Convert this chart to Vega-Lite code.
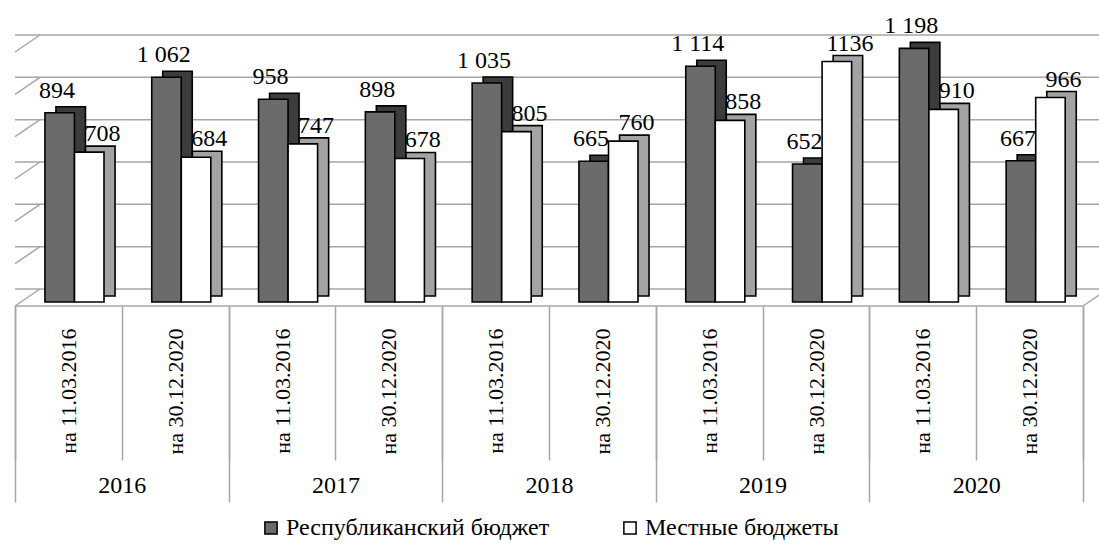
{
  "$schema": "https://vega.github.io/schema/vega-lite/v6.json",
  "autosize": {"type": "none"},
  "width": 1068,
  "height": 254,
  "padding": {"left": 15, "top": 48, "right": 16, "bottom": 242},
  "config": {
    "view": {"stroke": null},
    "font": "Liberation Serif, Times New Roman, serif",
    "legend": {"labelFont": "Liberation Serif, Times New Roman, serif"},
    "axis": {"labelFont": "Liberation Serif, Times New Roman, serif"},
    "text": {"font": "Liberation Serif, Times New Roman, serif"}
  },
  "datasets": {
    "main": [
      {"year": "2016", "cat": "2016|на 11.03.2016", "series": "Республиканский бюджет", "value": 894, "label": "894"},
      {"year": "2016", "cat": "2016|на 11.03.2016", "series": "Местные бюджеты", "value": 708, "label": "708"},
      {"year": "2016", "cat": "2016|на 30.12.2020", "series": "Республиканский бюджет", "value": 1062, "label": "1 062"},
      {"year": "2016", "cat": "2016|на 30.12.2020", "series": "Местные бюджеты", "value": 684, "label": "684"},
      {"year": "2017", "cat": "2017|на 11.03.2016", "series": "Республиканский бюджет", "value": 958, "label": "958"},
      {"year": "2017", "cat": "2017|на 11.03.2016", "series": "Местные бюджеты", "value": 747, "label": "747"},
      {"year": "2017", "cat": "2017|на 30.12.2020", "series": "Республиканский бюджет", "value": 898, "label": "898"},
      {"year": "2017", "cat": "2017|на 30.12.2020", "series": "Местные бюджеты", "value": 678, "label": "678"},
      {"year": "2018", "cat": "2018|на 11.03.2016", "series": "Республиканский бюджет", "value": 1035, "label": "1 035"},
      {"year": "2018", "cat": "2018|на 11.03.2016", "series": "Местные бюджеты", "value": 805, "label": "805"},
      {"year": "2018", "cat": "2018|на 30.12.2020", "series": "Республиканский бюджет", "value": 665, "label": "665"},
      {"year": "2018", "cat": "2018|на 30.12.2020", "series": "Местные бюджеты", "value": 760, "label": "760"},
      {"year": "2019", "cat": "2019|на 11.03.2016", "series": "Республиканский бюджет", "value": 1114, "label": "1 114"},
      {"year": "2019", "cat": "2019|на 11.03.2016", "series": "Местные бюджеты", "value": 858, "label": "858"},
      {"year": "2019", "cat": "2019|на 30.12.2020", "series": "Республиканский бюджет", "value": 652, "label": "652"},
      {"year": "2019", "cat": "2019|на 30.12.2020", "series": "Местные бюджеты", "value": 1136, "label": "1136"},
      {"year": "2020", "cat": "2020|на 11.03.2016", "series": "Республиканский бюджет", "value": 1198, "label": "1 198"},
      {"year": "2020", "cat": "2020|на 11.03.2016", "series": "Местные бюджеты", "value": 910, "label": "910"},
      {"year": "2020", "cat": "2020|на 30.12.2020", "series": "Республиканский бюджет", "value": 667, "label": "667"},
      {"year": "2020", "cat": "2020|на 30.12.2020", "series": "Местные бюджеты", "value": 966, "label": "966"}
    ],
    "grid": [{"v": 0}, {"v": 200}, {"v": 400}, {"v": 600}, {"v": 800}, {"v": 1000}, {"v": 1200}],
    "years": [{"year": "2016"}, {"year": "2017"}, {"year": "2018"}, {"year": "2019"}, {"year": "2020"}]
  },
  "layer": [
    {
      "layer": [
        {
          "data": {"name": "grid"},
          "mark": {"type": "rule", "color": "#a6a6a6", "strokeWidth": 1.5, "xOffset": 25, "x2Offset": 40, "yOffset": -13},
          "encoding": {
            "y": {"field": "v", "type": "quantitative", "scale": {"domain": [0, 1200], "nice": false}, "axis": null}
          }
        },
        {
          "data": {"name": "grid"},
          "mark": {"type": "rule", "color": "#a6a6a6", "strokeWidth": 1.5, "yOffset": 4, "y2Offset": -13, "x2Offset": 25},
          "encoding": {
            "x": {"value": 0},
            "x2": {"value": 0},
            "y": {"field": "v", "type": "quantitative"},
            "y2": {"field": "v"}
          }
        },
        {
          "data": {"values": [{"v": 0}]},
          "mark": {"type": "rule", "color": "#a6a6a6", "strokeWidth": 1.5, "yOffset": 4},
          "encoding": {
            "y": {"field": "v", "type": "quantitative"}
          }
        },
        {
          "data": {"values": [{"v": 0}]},
          "mark": {"type": "rule", "color": "#a6a6a6", "strokeWidth": 1.5, "yOffset": 4, "y2Offset": -13, "x2Offset": 25},
          "encoding": {
            "x": {"value": "width"},
            "x2": {"value": "width"},
            "y": {"field": "v", "type": "quantitative"},
            "y2": {"field": "v"}
          }
        },
        {
          "data": {"name": "main"},
          "transform": [{"filter": "datum.series === 'Республиканский бюджет'"}],
          "mark": {"type": "bar", "width": 29.5, "xOffset": 2.3, "yOffset": -6, "y2Offset": -6, "fill": "#3c3c3c", "stroke": "#000000", "strokeWidth": 1.6},
          "encoding": {
            "x": {
              "field": "cat", "type": "nominal", "sort": null,
              "scale": {"paddingInner": 0, "paddingOuter": 0},
              "axis": {
                "title": null, "domain": false, "orient": "bottom", "offset": 4,
                "tickBand": "extent", "tickSize": 154, "tickColor": "#a6a6a6", "tickWidth": 1.5,
                "labelAngle": 270, "labelPadding": -132, "labelFontSize": 22, "labelColor": "#000000",
                "labelFont": "Liberation Serif, Times New Roman, serif",
                "labelExpr": "split(datum.label, '|')[1]"
              }
            },
            "y": {"field": "value", "type": "quantitative"}
          }
        },
        {
          "data": {"name": "main"},
          "transform": [{"filter": "datum.series === 'Республиканский бюджет'"}],
          "mark": {"type": "bar", "width": 29.5, "xOffset": -8.7, "stroke": "#000000", "strokeWidth": 1.6, "opacity": 1},
          "encoding": {
            "x": {"field": "cat", "type": "nominal", "sort": null},
            "y": {"field": "value", "type": "quantitative"},
            "color": {
              "field": "series", "type": "nominal",
              "scale": {"domain": ["Республиканский бюджет", "Местные бюджеты"], "range": ["#6b6b6b", "#ffffff"]},
              "legend": {
                "title": null, "orient": "none", "direction": "horizontal", "columns": 2,
                "legendX": 244, "legendY": 468, "padding": 0,
                "symbolType": "square", "symbolSize": 150, "symbolStrokeColor": "#000000", "symbolStrokeWidth": 1.5,
                "symbolOpacity": 1,
                "labelFont": "Liberation Serif, Times New Roman, serif",
                "labelFontSize": 24, "labelColor": "#000000", "labelOffset": 3, "columnPadding": 68, "labelLimit": 400
              }
            }
          }
        },
        {
          "data": {"name": "main"},
          "transform": [{"filter": "datum.series === 'Местные бюджеты'"}],
          "mark": {"type": "bar", "width": 29.5, "xOffset": 31.9, "yOffset": -6, "y2Offset": -6, "fill": "#a3a3a3", "stroke": "#000000", "strokeWidth": 1.6},
          "encoding": {
            "x": {"field": "cat", "type": "nominal", "sort": null},
            "y": {"field": "value", "type": "quantitative"}
          }
        },
        {
          "data": {"name": "main"},
          "transform": [{"filter": "datum.series === 'Местные бюджеты'"}],
          "mark": {"type": "bar", "width": 29.5, "xOffset": 20.85, "stroke": "#000000", "strokeWidth": 1.6, "opacity": 1},
          "encoding": {
            "x": {"field": "cat", "type": "nominal", "sort": null},
            "y": {"field": "value", "type": "quantitative"},
            "color": {"field": "series", "type": "nominal"}
          }
        },
        {
          "data": {"name": "main"},
          "transform": [{"filter": "datum.series === 'Республиканский бюджет'"}],
          "mark": {"type": "text", "dx": -11.5, "dy": -15, "baseline": "alphabetic", "align": "center", "fontSize": 24, "font": "Liberation Serif, Times New Roman, serif", "color": "#000000"},
          "encoding": {
            "x": {"field": "cat", "type": "nominal", "sort": null},
            "y": {"field": "value", "type": "quantitative"},
            "text": {"field": "label"}
          }
        },
        {
          "data": {"name": "main"},
          "transform": [{"filter": "datum.series === 'Местные бюджеты'"}],
          "mark": {"type": "text", "dx": 34, "dy": -11, "baseline": "alphabetic", "align": "center", "fontSize": 24, "font": "Liberation Serif, Times New Roman, serif", "color": "#000000"},
          "encoding": {
            "x": {"field": "cat", "type": "nominal", "sort": null},
            "y": {"field": "value", "type": "quantitative"},
            "text": {"field": "label"}
          }
        }
      ]
    },
    {
      "data": {"name": "years"},
      "mark": {"type": "rule", "opacity": 0},
      "encoding": {
        "x": {
          "field": "year", "type": "nominal", "sort": null,
          "scale": {"paddingInner": 0, "paddingOuter": 0},
          "axis": {
            "title": null, "domain": false, "orient": "bottom", "offset": 4,
            "tickBand": "extent", "tickSize": 196, "tickColor": "#a6a6a6", "tickWidth": 1.5,
            "labelAngle": 0, "labelPadding": -29, "labelFontSize": 24, "labelColor": "#000000",
            "labelFont": "Liberation Serif, Times New Roman, serif"
          }
        }
      }
    }
  ],
  "resolve": {"scale": {"x": "independent"}, "axis": {"x": "independent"}}
}
